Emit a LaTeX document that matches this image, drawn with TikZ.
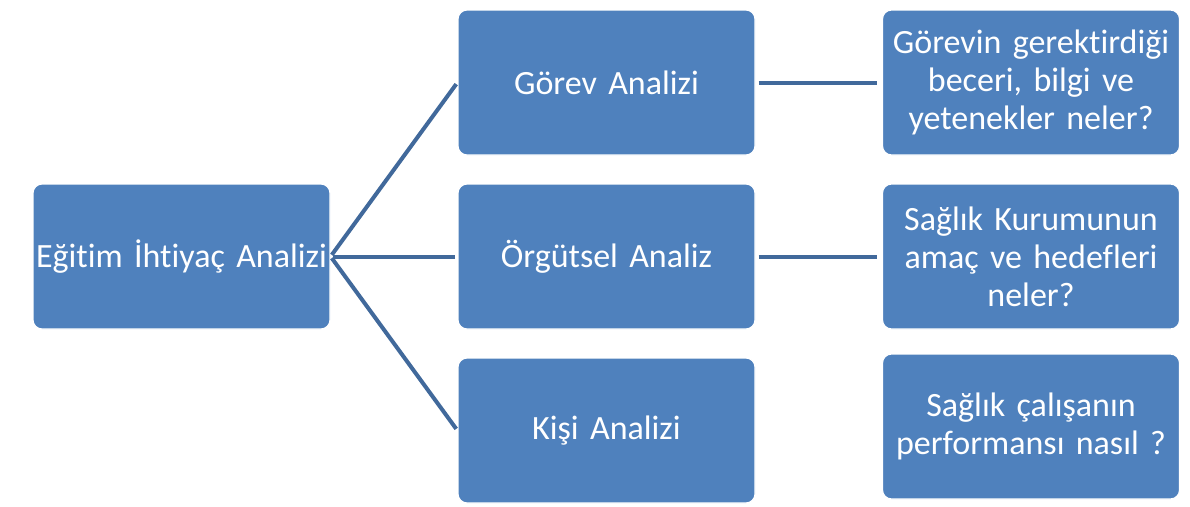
\documentclass[tikz,border=0pt]{standalone}
\usepackage{fontspec}
\setmainfont{Carlito}[Ligatures=NoCommon,WordSpace=0.75]
\usepackage{tikz}
\usetikzlibrary{positioning}
\definecolor{kutumavi}{HTML}{4F81BD}
\definecolor{cizgimavi}{HTML}{41699B}
\tikzset{kutu/.style={rectangle,rounded corners=9pt,fill=kutumavi,draw=white,line width=1.2pt,
  inner xsep=2pt,minimum width=297pt,minimum height=145pt,text width=293pt,align=center,text=white,
  font=\fontsize{34}{38}\selectfont}}
\tikzset{bag/.style={-,line width=4pt,draw=cizgimavi}}

\begin{document}
\begin{tikzpicture}[x=1pt,y=-1pt]
\useasboundingbox (0,0) rectangle (1190,506);
% \draw[help lines] (0,0) grid (1190,506);
\node (egitim) [kutu] at (181.5,256.5) {Eğitim İhtiyaç Analizi};
{\node (gorev) [kutu] at (606.5,82.5) {Görev Analizi};
\node (orgut) [kutu] at (606.5,256.5) {Örgütsel Analiz};
\node (kisi) [kutu] at (606.5,430.5) {Kişi Analizi};}
{\node (beceri) [kutu] at (1031,82.5) {Görevin gerektirdiği\\beceri, bilgi ve\\yetenekler neler?};
\node (amac) [kutu] at (1031,256.5) {Sağlık Kurumunun\\amaç ve hedefleri\\neler?};
\node (perf) [kutu] at (1031,426.5) {Sağlık çalışanın\\performansı nasıl ?};}
%
{\path[bag,shorten <=2pt,shorten >=2pt](egitim.east) edge (gorev.west);
\path[bag,shorten <=2pt,shorten >=2pt](egitim.east) edge (orgut.west);
\path[bag,shorten <=2pt,shorten >=2pt](egitim.east) edge (kisi.west);}
{\path[bag,shorten <=3pt,shorten >=5pt](gorev.east) edge (beceri.west);
\path[bag,shorten <=3pt,shorten >=5pt](orgut.east) edge (amac.west);}
\end{tikzpicture}
\end{document}
